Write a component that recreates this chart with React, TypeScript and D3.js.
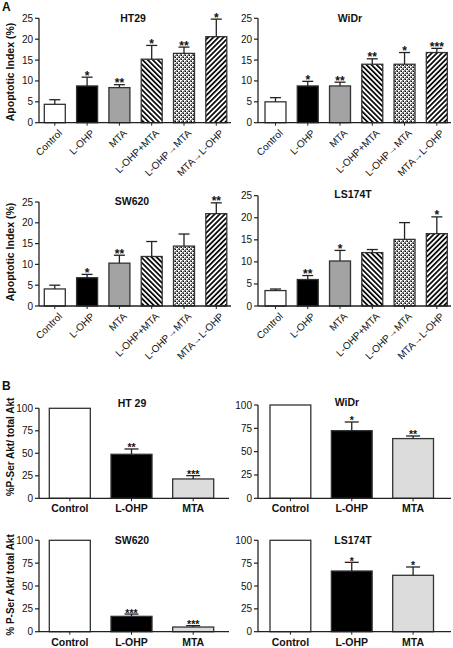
import React from 'react';
import * as d3 from 'd3';

// ---------- DATA ----------
const apoptosisCategories = ['Control', 'L-OHP', 'MTA', 'L-OHP+MTA', 'L-OHP→MTA', 'MTA→L-OHP'];
const apoptosisTicks = [0, 5, 10, 15, 20, 25];

const ht29Mean = [4.4, 8.8, 8.4, 15.2, 16.6, 20.6];
const ht29Sem = [1.1, 2.1, 0.7, 3.3, 1.5, 4.2];
const ht29Stars = ['', '*', '**', '*', '**', '*'];

const widrMean = [5.0, 8.8, 8.8, 14.0, 14.0, 16.8];
const widrSem = [1.0, 1.1, 0.9, 1.3, 2.8, 1.0];
const widrStars = ['', '*', '**', '**', '*', '***'];

const sw620Mean = [4.1, 6.8, 10.3, 11.9, 14.4, 22.2];
const sw620Sem = [0.9, 0.8, 1.9, 3.6, 2.9, 2.6];
const sw620Stars = ['', '*', '**', '', '', '**'];

const ls174tMean = [3.5, 6.0, 10.2, 12.1, 15.1, 16.4];
const ls174tSem = [0.35, 0.9, 2.4, 0.7, 3.8, 3.8];
const ls174tStars = ['', '**', '*', '', '', '*'];

const aktCategories = ['Control', 'L-OHP', 'MTA'];
const aktTicks = [0, 25, 50, 75, 100];

const aktHt29Mean = [100, 48.9, 21.5];
const aktHt29Sem = [0, 5.9, 3.7];
const aktHt29Stars = ['', '**', '***'];

const aktWidrMean = [100, 72.5, 64.0];
const aktWidrSem = [0, 9.3, 2.8];
const aktWidrStars = ['', '*', '**'];

const aktSw620Mean = [100, 16.8, 5.1];
const aktSw620Sem = [0, 2.5, 1.5];
const aktSw620Stars = ['', '***', '***'];

const aktLs174tMean = [100, 66.4, 61.7];
const aktLs174tSem = [0, 9.5, 9.1];
const aktLs174tStars = ['', '*', '*'];

// ---------- STYLE ----------
const FONT = '"Liberation Sans", Arial, Helvetica, sans-serif';
const INK = '#222';
const apoptosisFills = ['#ffffff', '#000000', '#a3a3a3', 'url(#hatchBack)', 'url(#checker)', 'url(#hatchFwd)'];
const aktFills = ['#ffffff', '#000000', '#dcdcdc'];

type PanelProps = {
  title: string;
  categories: string[];
  mean: number[];
  sem: number[];
  stars: string[];
  fills: string[];
  ticks: number[];
  maxY: number;
  axisX: number;
  axisEndX: number;
  barStart: number;
  barEnd: number;
  pad: number;
  yZero: number;
  yMax: number;
  titleX: number;
  titleY: number;
  rotated: boolean;
  starSize: number;
};

function Panel(p: PanelProps) {
  const x = d3.scaleBand<string>().domain(p.categories).range([p.barStart, p.barEnd]).paddingInner(p.pad).paddingOuter(0);
  const y = d3.scaleLinear().domain([0, p.maxY]).range([p.yZero, p.yMax]);
  const bw = x.bandwidth();
  const capW = p.rotated ? 11 : 14;
  return (
    <g>
      <text x={p.titleX} y={p.titleY} textAnchor="middle" fontWeight="bold" fontSize={10.5} fontFamily={FONT} fill="#111">{p.title}</text>
      {p.categories.map((c, i) => {
        const x0 = x(c)!;
        const cx = x0 + bw / 2;
        const top = y(p.mean[i]);
        const errTop = y(p.mean[i] + p.sem[i]);
        return (
          <g key={c}>
            <rect x={x0} y={top} width={bw} height={p.yZero - top} fill={p.fills[i]} stroke="#333" strokeWidth={1.3} />
            {p.sem[i] > 0 && (
              <g stroke={INK} strokeWidth={1.3}>
                <line x1={cx} x2={cx} y1={top} y2={errTop} />
                <line x1={cx - capW / 2} x2={cx + capW / 2} y1={errTop} y2={errTop} />
              </g>
            )}
            {p.stars[i] && (
              <text x={cx} y={errTop + 2.5} textAnchor="middle" fontSize={p.starSize} fontFamily={FONT} fontWeight="bold" fill="#111">{p.stars[i]}</text>
            )}
            <line x1={cx} x2={cx} y1={p.yZero} y2={p.yZero + 3} stroke={INK} strokeWidth={1} />
            {p.rotated ? (
              <text transform={`translate(${cx + 8},${p.yZero + 11}) rotate(-45)`} textAnchor="end" fontSize={10} fontFamily={FONT} fill="#111">{c}</text>
            ) : (
              <text x={cx} y={p.yZero + 14} textAnchor="middle" fontSize={10.5} fontWeight="bold" fontFamily={FONT} fill="#111">{c}</text>
            )}
          </g>
        );
      })}
      {/* axes */}
      <line x1={p.axisX} x2={p.axisX} y1={p.yZero} y2={p.yMax} stroke={INK} strokeWidth={1.3} />
      <line x1={p.axisX} x2={p.axisEndX} y1={p.yZero} y2={p.yZero} stroke={INK} strokeWidth={1.3} />
      {p.ticks.map((t) => (
        <g key={t}>
          <line x1={p.axisX - 4} x2={p.axisX} y1={y(t)} y2={y(t)} stroke={INK} strokeWidth={1.2} />
          <text x={p.axisX - 6} y={y(t)} dy="0.35em" textAnchor="end" fontSize={10} fontFamily={FONT} fill="#111">{t}</text>
        </g>
      ))}
    </g>
  );
}

export default function App() {
  const aCommon = { categories: apoptosisCategories, fills: apoptosisFills, ticks: apoptosisTicks, maxY: 25, pad: 0.35, rotated: true, starSize: 12 };
  const bCommon = { categories: aktCategories, fills: aktFills, ticks: aktTicks, maxY: 100, pad: 0.335, rotated: false, starSize: 10.5 };
  return (
    <svg width={453} height={648} style={{ position: 'absolute', left: 0, top: 0, background: '#fff' }}>
      <defs>
        <pattern id="hatchBack" width={3.6} height={3.6} patternUnits="userSpaceOnUse" patternTransform="rotate(-45)">
          <rect width={3.6} height={3.6} fill="#fff" />
          <rect width={1.7} height={3.6} fill="#000" />
        </pattern>
        <pattern id="hatchFwd" width={3.6} height={3.6} patternUnits="userSpaceOnUse" patternTransform="rotate(45)">
          <rect width={3.6} height={3.6} fill="#fff" />
          <rect width={1.7} height={3.6} fill="#000" />
        </pattern>
        <pattern id="checker" width={4} height={4} patternUnits="userSpaceOnUse">
          <rect width={4} height={4} fill="#7d7d7d" />
          <rect x={0} y={0} width={2} height={1} fill="#fff" />
          <rect x={0} y={0} width={1} height={2} fill="#fff" />
          <rect x={2} y={2} width={2} height={1} fill="#fff" />
          <rect x={2} y={2} width={1} height={2} fill="#fff" />
          <rect x={3} y={1} width={1} height={1} fill="#000" />
          <rect x={1} y={3} width={1} height={1} fill="#000" />
        </pattern>
      </defs>

      <text x={2} y={11} fontSize={12} fontWeight="bold" fontFamily={FONT} fill="#111">A</text>
      <text x={2} y={390} fontSize={12} fontWeight="bold" fontFamily={FONT} fill="#111">B</text>

      <text transform="translate(14,72) rotate(-90)" textAnchor="middle" fontSize={10.5} fontWeight="bold" fontFamily={FONT} fill="#111">Apoptotic Index (%)</text>
      <text transform="translate(14,252) rotate(-90)" textAnchor="middle" fontSize={10.5} fontWeight="bold" fontFamily={FONT} fill="#111">Apoptotic Index (%)</text>
      <text transform="translate(14,447) rotate(-90)" textAnchor="middle" fontSize={10} fontWeight="bold" fontFamily={FONT} fill="#111">%P-Ser Akt/ total Akt</text>
      <text transform="translate(14,585) rotate(-90)" textAnchor="middle" fontSize={10} fontWeight="bold" fontFamily={FONT} fill="#111">% P-Ser Akt/ total Akt</text>

      <Panel {...aCommon} title="HT29" mean={ht29Mean} sem={ht29Sem} stars={ht29Stars}
        axisX={39} axisEndX={231} barStart={44.3} barEnd={226.8} yZero={122.7} yMax={18.3} titleX={133} titleY={21.7} />
      <Panel {...aCommon} title="WiDr" mean={widrMean} sem={widrSem} stars={widrStars}
        axisX={258} axisEndX={451} barStart={265} barEnd={447.3} yZero={122.7} yMax={18.3} titleX={350} titleY={21.7} />
      <Panel {...aCommon} title="SW620" mean={sw620Mean} sem={sw620Sem} stars={sw620Stars}
        axisX={39} axisEndX={231} barStart={44.3} barEnd={226.8} yZero={306} yMax={202} titleX={132} titleY={205} />
      <Panel {...aCommon} title="LS174T" mean={ls174tMean} sem={ls174tSem} stars={ls174tStars}
        axisX={258} axisEndX={451} barStart={265} barEnd={447.3} yZero={306} yMax={195.7} titleX={353} titleY={198.3} />

      <Panel {...bCommon} title="HT 29" mean={aktHt29Mean} sem={aktHt29Sem} stars={aktHt29Stars}
        axisX={39} axisEndX={229} barStart={49.3} barEnd={213.7} yZero={498.3} yMax={408.3} titleX={132} titleY={406.5} />
      <Panel {...bCommon} title="WiDr" mean={aktWidrMean} sem={aktWidrSem} stars={aktWidrStars}
        axisX={258} axisEndX={451} barStart={270} barEnd={433.5} yZero={498.3} yMax={405} titleX={347} titleY={406} />
      <Panel {...bCommon} title="SW620" mean={aktSw620Mean} sem={aktSw620Sem} stars={aktSw620Stars}
        axisX={39} axisEndX={229} barStart={49.3} barEnd={213.7} yZero={631.7} yMax={540.3} titleX={132} titleY={544} />
      <Panel {...bCommon} title="LS174T" mean={aktLs174tMean} sem={aktLs174tSem} stars={aktLs174tStars}
        axisX={258} axisEndX={451} barStart={270} barEnd={433.5} yZero={631.7} yMax={540.3} titleX={353} titleY={544} />
    </svg>
  );
}
